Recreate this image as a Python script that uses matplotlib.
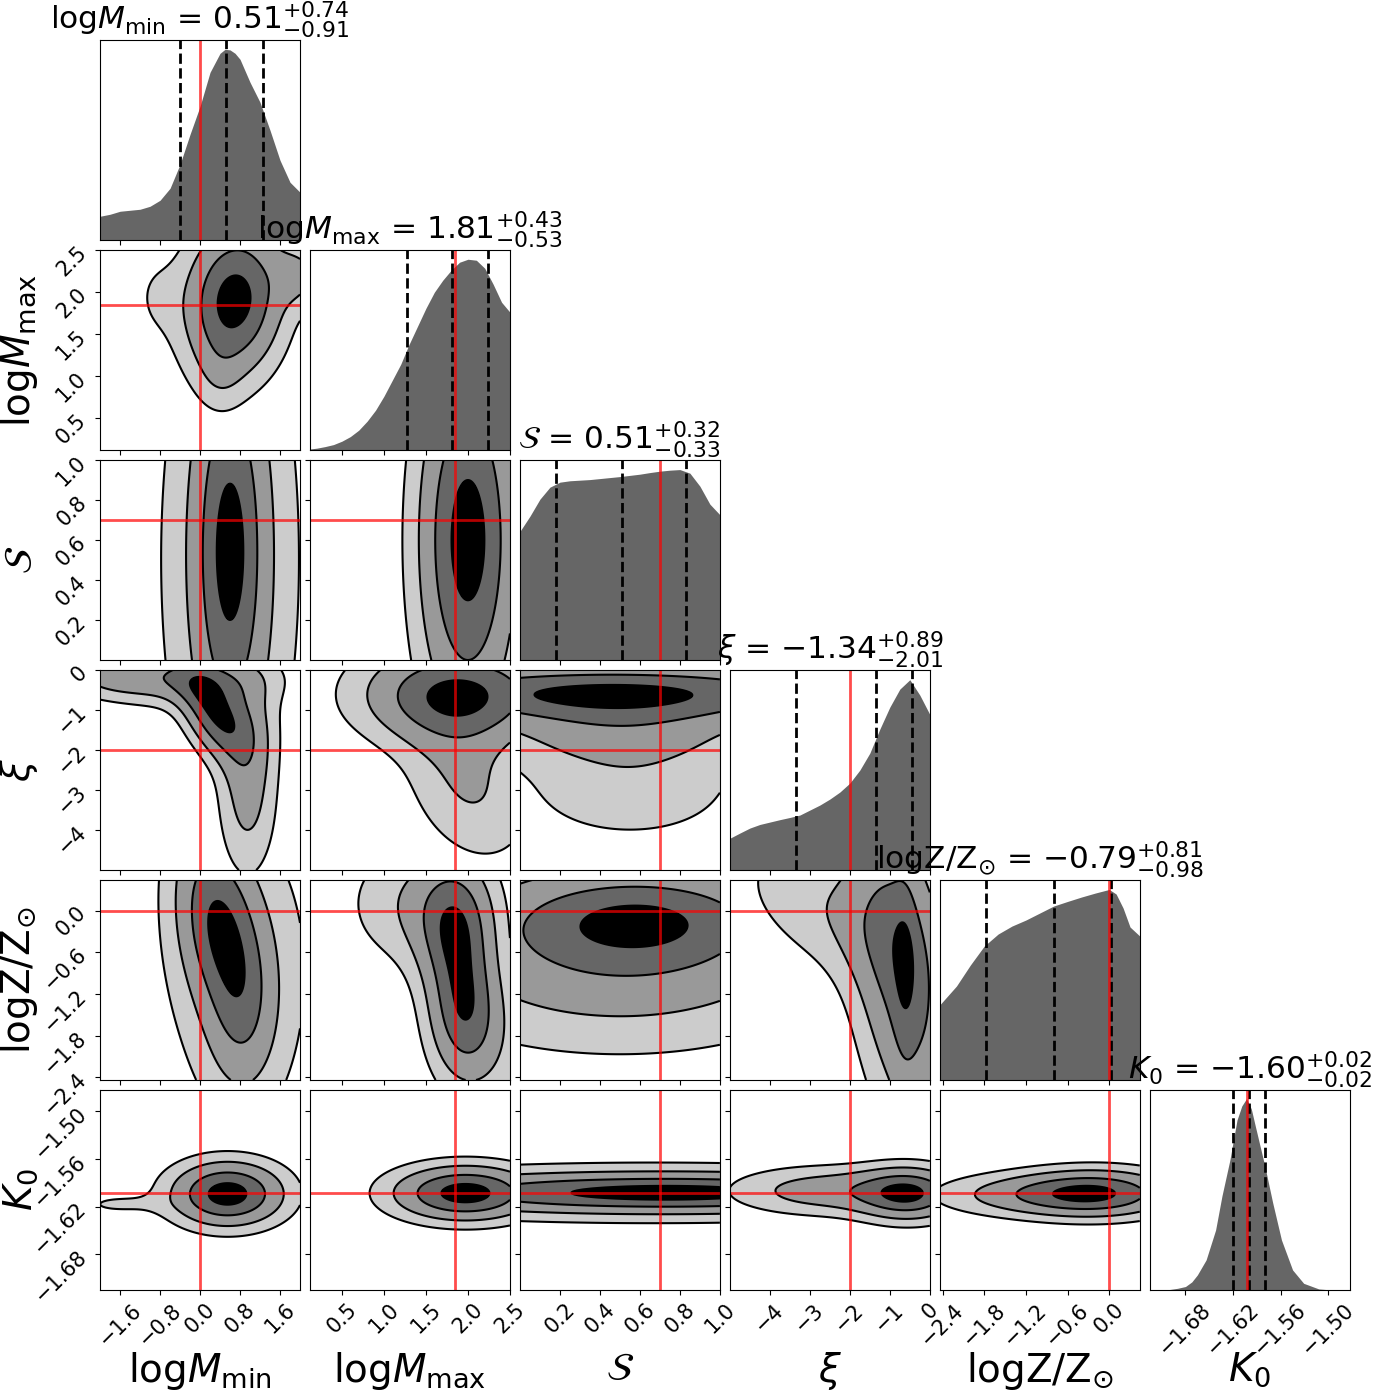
import numpy as np
import matplotlib.pyplot as plt

# parameter names, plot ranges, true values and posterior summaries
labels = [r"$\mathrm{log}M_{\mathrm{min}}$", r"$\mathrm{log}M_{\mathrm{max}}$",
          r"$\mathcal{S}$", r"$\xi$", r"$\mathrm{logZ/Z}_{\odot}$", r"$K_0$"]
lims = [(-2.0, 2.0), (0.12, 2.5), (0.0, 1.0), (-5.0, 0.0), (-2.44, 0.44), (-1.725, -1.473)]
truths = [0.0, 1.85, 0.7, -2.0, 0.0, -1.603]
medians = [0.51, 1.81, 0.51, -1.34, -0.79, -1.60]
err_hi = [0.74, 0.43, 0.32, 0.89, 0.81, 0.02]
err_lo = [0.91, 0.53, 0.33, 2.01, 0.98, 0.02]
tick_vals = [
    [-1.6, -0.8, 0.0, 0.8, 1.6],
    [0.5, 1.0, 1.5, 2.0, 2.5],
    [0.2, 0.4, 0.6, 0.8, 1.0],
    [-4, -3, -2, -1, 0],
    [-2.4, -1.8, -1.2, -0.6, 0.0],
    [-1.68, -1.62, -1.56, -1.50],
]

# 1D marginals (height as fraction of panel)
mmin_x = [-2.0, -1.8, -1.6, -1.4, -1.2, -1.0, -0.8, -0.6, -0.4, -0.2, 0.0,
          0.2, 0.4, 0.5, 0.6, 0.7, 0.8, 1.0, 1.2, 1.4, 1.6, 1.8, 2.0]
mmin_h = [0.12, 0.13, 0.145, 0.15, 0.155, 0.17, 0.20, 0.26, 0.38, 0.53, 0.67,
          0.84, 0.935, 0.955, 0.952, 0.935, 0.905, 0.79, 0.69, 0.55, 0.40, 0.29, 0.24]
mmax_x = [0.1, 0.2, 0.3, 0.4, 0.5, 0.6, 0.7, 0.8, 0.9, 1.0, 1.1, 1.2, 1.3,
          1.4, 1.5, 1.6, 1.7, 1.8, 1.9, 2.0, 2.1, 2.2, 2.3, 2.4, 2.5]
mmax_h = [0.005, 0.01, 0.018, 0.028, 0.045, 0.068, 0.10, 0.145, 0.20, 0.27, 0.35, 0.43, 0.53,
          0.62, 0.71, 0.79, 0.85, 0.90, 0.94, 0.955, 0.95, 0.91, 0.83, 0.74, 0.69]
s_x = [0.0, 0.05, 0.1, 0.15, 0.2, 0.25, 0.3, 0.35, 0.4, 0.45, 0.5,
       0.55, 0.6, 0.65, 0.7, 0.75, 0.8, 0.85, 0.9, 0.95, 1.0]
s_h = [0.644, 0.72, 0.805, 0.865, 0.89, 0.897, 0.90, 0.903, 0.908, 0.913, 0.918,
       0.924, 0.93, 0.938, 0.945, 0.95, 0.953, 0.935, 0.87, 0.78, 0.727]
xi_x = [-5.0, -4.75, -4.5, -4.25, -4.0, -3.75, -3.5, -3.25, -3.0, -2.75, -2.5,
        -2.25, -2.0, -1.75, -1.5, -1.25, -1.0, -0.75, -0.5, -0.25, 0.0]
xi_h = [0.159, 0.185, 0.21, 0.228, 0.24, 0.252, 0.263, 0.275, 0.30, 0.325, 0.355,
        0.39, 0.435, 0.50, 0.585, 0.705, 0.815, 0.905, 0.952, 0.875, 0.778]
logz_x = [-2.44, -2.2, -2.0, -1.8, -1.6, -1.4, -1.2, -1.0, -0.8, -0.6, -0.4,
          -0.2, 0.0, 0.1, 0.2, 0.3, 0.44]
logz_h = [0.376, 0.47, 0.575, 0.67, 0.73, 0.77, 0.80, 0.835, 0.87, 0.893, 0.915,
          0.935, 0.953, 0.93, 0.86, 0.765, 0.72]
k0_x = [-1.725, -1.70, -1.69, -1.68, -1.672, -1.665, -1.654, -1.642, -1.634, -1.624, -1.615,
        -1.609, -1.603, -1.597, -1.592, -1.580, -1.570, -1.559, -1.545, -1.531, -1.512, -1.50, -1.473]
k0_h = [0.0, 0.002, 0.008, 0.017, 0.04, 0.075, 0.15, 0.30, 0.47, 0.65, 0.85,
        0.92, 0.957, 0.905, 0.82, 0.62, 0.435, 0.25, 0.10, 0.033, 0.005, 0.001, 0.0]

# 2D posteriors described as gaussian blobs:
# (x centre, y centre, x width, y width, correlation, amplitude)
b_mmax_mmin = [(0.68, 1.9, 0.65, 0.6, 0.1, 1.0),
               (-0.9, 1.95, 0.35, 0.35, 0.0, 0.12),
               (0.4, 1.0, 0.3, 0.3, 0.0, 0.12),
               (2.0, 2.2, 0.35, 0.25, 0.0, 0.3)]
b_s_mmin = [(0.6, 0.55, 0.45, 0.6, 0.0, 1.0),
            (0.6, 0.5, 1.0, 1.0, 0.0, 0.5)]
b_s_mmax = [(2.0, 0.6, 0.39, 0.6, 0.0, 1.0)]
b_xi_mmin = [(0.25, -1.05, 0.45, 0.75, -0.45, 1.0),
             (-0.3, -0.2, 1.1, 0.45, 0.0, 0.65),
             (-1.8, -0.15, 0.7, 0.35, 0.0, 0.35),
             (0.9, -1.2, 0.45, 0.9, 0.0, 0.35),
             (0.95, -3.0, 0.38, 1.4, 0.0, 0.55)]
b_xi_mmax = [(1.9, -0.6, 0.75, 0.8, 0.0, 1.0),
             (2.0, -2.8, 0.5, 1.3, -0.3, 0.38)]
b_xi_s = [(0.45, -0.55, 0.9, 0.48, 0.0, 1.0),
          (0.5, -1.5, 0.5, 0.6, 0.0, 0.4),
          (0.55, -2.9, 0.4, 1.0, 0.0, 0.28)]
b_logz_mmin = [(0.35, -0.15, 0.55, 0.9, -0.3, 1.0),
               (0.85, -1.5, 0.45, 0.8, 0.0, 0.5),
               (0.8, -0.8, 1.1, 1.6, 0.0, 0.35)]
b_logz_mmax = [(1.85, -0.25, 0.3, 0.65, 0.0, 1.0),
               (1.95, -1.45, 0.28, 0.65, 0.0, 1.0),
               (1.4, 0.1, 0.55, 0.6, 0.0, 0.45),
               (2.25, -1.9, 0.35, 0.7, 0.0, 0.3)]
b_logz_s = [(0.6, -0.1, 0.45, 0.45, 0.0, 0.6),
            (0.5, -0.65, 0.7, 0.85, 0.0, 0.6)]
b_logz_xi = [(-0.65, -0.9, 0.9, 1.6, -0.4, 1.0),
             (-0.62, -0.9, 0.2, 1.0, 0.0, 0.25),
             (-2.6, 0.0, 1.5, 0.7, -0.5, 0.35)]
b_k0_mmin = [(0.55, -1.604, 0.75, 0.027, 0.0, 1.0),
             (-1.7, -1.617, 0.6, 0.01, 0.0, 0.15)]
b_k0_mmax = [(1.97, -1.603, 0.57, 0.023, 0.0, 1.0)]
b_k0_s = [(0.75, -1.6025, 0.9, 0.016, 0.0, 1.0),
          (0.6, -1.603, 1.2, 0.03, 0.0, 0.25)]
b_k0_xi = [(-0.5, -1.604, 0.85, 0.022, 0.0, 1.0),
           (-2.5, -1.60, 1.6, 0.02, 0.0, 0.6)]
b_k0_logz = [(-0.15, -1.603, 0.75, 0.02, 0.0, 1.0),
             (-1.2, -1.605, 0.9, 0.018, 0.0, 0.5)]

marginals = [(mmin_x, mmin_h), (mmax_x, mmax_h), (s_x, s_h),
             (xi_x, xi_h), (logz_x, logz_h), (k0_x, k0_h)]
panels = {(1, 0): b_mmax_mmin,
          (2, 0): b_s_mmin, (2, 1): b_s_mmax,
          (3, 0): b_xi_mmin, (3, 1): b_xi_mmax, (3, 2): b_xi_s,
          (4, 0): b_logz_mmin, (4, 1): b_logz_mmax, (4, 2): b_logz_s, (4, 3): b_logz_xi,
          (5, 0): b_k0_mmin, (5, 1): b_k0_mmax, (5, 2): b_k0_s, (5, 3): b_k0_xi, (5, 4): b_k0_logz}

level_frac = [0.135, 0.325, 0.607, 0.882]
fill_colors = ['#cccccc', '#999999', '#666666', '#000000']


def density(blobs, xr, yr, n=200):
    X, Y = np.meshgrid(np.linspace(xr[0], xr[1], n), np.linspace(yr[0], yr[1], n))
    Z = np.zeros_like(X)
    for mx, my, sx, sy, r, a in blobs:
        dx = (X - mx) / sx
        dy = (Y - my) / sy
        Z += a * np.exp(-0.5 * (dx**2 - 2 * r * dx * dy + dy**2) / (1 - r**2))
    return X, Y, Z


ndim = len(labels)
fig, axes = plt.subplots(ndim, ndim, figsize=(13.9, 13.9), dpi=100)
fig.subplots_adjust(left=0.072, right=0.971, bottom=0.072, top=0.971, wspace=0.05, hspace=0.05)

for i in range(ndim):
    for j in range(ndim):
        ax = axes[i, j]
        if j > i:
            ax.set_visible(False)
            continue
        ax.set_xlim(lims[j])
        ax.set_xticks(tick_vals[j])
        if i == j:
            x, h = marginals[i]
            ax.fill_between(x, 0, h, color='#666666', lw=0)
            ax.set_ylim(0, 1)
            ax.set_yticks([])
            q = [medians[i] - err_lo[i], medians[i], medians[i] + err_hi[i]]
            for v in q:
                ax.axvline(v, color='k', ls='--', lw=2)
            ax.axvline(truths[i], color='red', alpha=0.7, lw=2)
            title = labels[i] + " = " + r"$%.2f_{-%.2f}^{+%.2f}$" % (medians[i], err_lo[i], err_hi[i])
            ax.set_title(title, fontsize=22.5)
        else:
            X, Y, Z = density(panels[(i, j)], lims[j], lims[i])
            lv = [f * Z.max() for f in level_frac]
            ax.contourf(X, Y, Z, levels=lv + [Z.max() * 1.001], colors=fill_colors)
            ax.contour(X, Y, Z, levels=lv, colors='k', linewidths=1.5)
            ax.axvline(truths[j], color='red', alpha=0.7, lw=2)
            ax.axhline(truths[i], color='red', alpha=0.7, lw=2)
            ax.set_ylim(lims[i])
            ax.set_yticks(tick_vals[i])
            if j == 0:
                for lab in ax.get_yticklabels():
                    lab.set_rotation(45)
                ax.set_ylabel(labels[i], fontsize=28)
                ax.yaxis.set_label_coords(-0.3, 0.5)
            else:
                ax.set_yticklabels([])
        if i == ndim - 1:
            for lab in ax.get_xticklabels():
                lab.set_rotation(45)
            ax.set_xlabel(labels[j], fontsize=28)
            ax.xaxis.set_label_coords(0.5, -0.3)
        else:
            ax.set_xticklabels([])
        ax.tick_params(labelsize=15)

fig.savefig('out.png', dpi=100)
